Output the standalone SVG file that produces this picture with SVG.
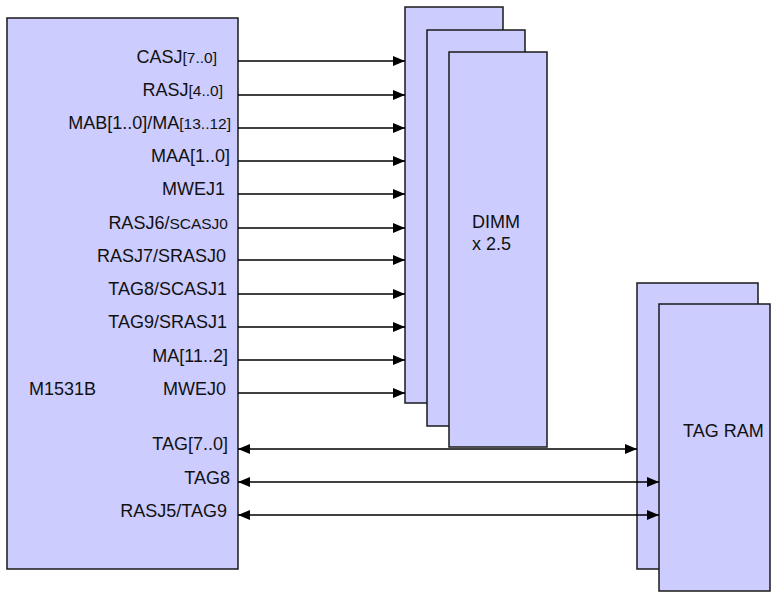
<svg xmlns="http://www.w3.org/2000/svg" width="771" height="593" viewBox="0 0 771 593">
<defs>
<style>
.box{fill:#ccccff;stroke:#1a1a1a;stroke-width:1.5}
.t{font-family:"Liberation Sans",Arial,sans-serif;font-size:18px;fill:#111}
.s{font-size:15.5px}
.w{stroke:#000;stroke-width:1.6;fill:none}
.a{marker-end:url(#ah)}
.b{marker-end:url(#ah);marker-start:url(#ah)}
</style>
<marker id="ah" viewBox="0 0 12 10" refX="12" refY="5" markerWidth="12" markerHeight="10" markerUnits="userSpaceOnUse" orient="auto-start-reverse">
<path d="M0,0 L12,5 L0,10 z" fill="#000"/>
</marker>
</defs>
<rect width="771" height="593" fill="#fff"/>
<g id="m1531b">
<rect class="box" x="7" y="18" width="231" height="551"/>
<text class="t" x="29" y="395">M1531B</text>
<g text-anchor="end">
<text class="t" x="217" y="62.5">CASJ<tspan class="s">[7..0]</tspan></text>
<text class="t" x="223" y="96">RASJ<tspan class="s">[4..0]</tspan></text>
<text class="t" x="231" y="129">MAB[1..0]/MA<tspan class="s">[13..12]</tspan></text>
<text class="t" x="230" y="162">MAA[1..0]</text>
<text class="t" x="225" y="195">MWEJ1</text>
<text class="t" x="228" y="229">RASJ6/<tspan class="s">SCASJ0</tspan></text>
<text class="t" x="226" y="262">RASJ7/SRASJ0</text>
<text class="t" x="227" y="295">TAG8/SCASJ1</text>
<text class="t" x="227" y="328">TAG9/SRASJ1</text>
<text class="t" x="228" y="362">MA[11..2]</text>
<text class="t" x="226" y="395">MWEJ0</text>
<text class="t" x="228" y="450">TAG[7..0]</text>
<text class="t" x="230" y="484">TAG8</text>
<text class="t" x="227" y="517">RASJ5/TAG9</text>
</g>
</g>
<g id="dimm">
<rect class="box" x="405" y="7" width="98" height="396"/>
<rect class="box" x="427" y="30" width="98" height="396"/>
<rect class="box" x="449" y="52" width="98" height="395"/>
<text class="t" x="472" y="228">DIMM</text>
<text class="t" x="472" y="250">x 2.5</text>
</g>
<g id="tagram">
<rect class="box" x="637" y="283" width="121" height="286"/>
<rect class="box" x="659" y="304" width="111" height="287"/>
<text class="t" x="683" y="437">TAG RAM</text>
</g>
<g id="connectors">
<line class="w a" x1="238" y1="61" x2="405" y2="61"/>
<line class="w a" x1="238" y1="95" x2="405" y2="95"/>
<line class="w a" x1="238" y1="128" x2="405" y2="128"/>
<line class="w a" x1="238" y1="161" x2="405" y2="161"/>
<line class="w a" x1="238" y1="194" x2="405" y2="194"/>
<line class="w a" x1="238" y1="228" x2="405" y2="228"/>
<line class="w a" x1="238" y1="260" x2="405" y2="260"/>
<line class="w a" x1="238" y1="294" x2="405" y2="294"/>
<line class="w a" x1="238" y1="327" x2="405" y2="327"/>
<line class="w a" x1="238" y1="360" x2="405" y2="360"/>
<line class="w a" x1="238" y1="393" x2="405" y2="393"/>
<line class="w b" x1="238" y1="449" x2="637" y2="449"/>
<line class="w b" x1="238" y1="482" x2="659" y2="482"/>
<line class="w b" x1="238" y1="515" x2="659" y2="515"/>
</g>
</svg>
